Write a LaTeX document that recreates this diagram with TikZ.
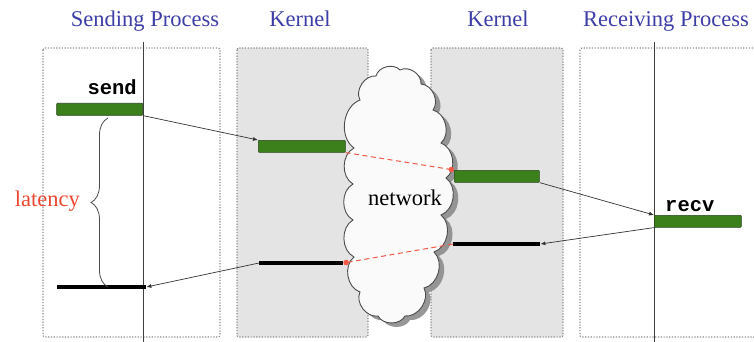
\documentclass[tikz,border=0pt]{standalone}
\usepackage{fontspec}
\setmainfont{Liberation Serif}
\setmonofont{Liberation Mono}
\usetikzlibrary{shadows,arrows.meta,decorations.pathreplacing}
\definecolor{titleblue}{RGB}{62,62,168}
\definecolor{latred}{RGB}{236,72,48}
\definecolor{dashred}{RGB}{240,90,70}
\definecolor{bargreen}{RGB}{60,128,28}
\definecolor{bardark}{RGB}{40,70,25}
\definecolor{kgray}{RGB}{228,228,228}
\definecolor{dotgray}{RGB}{140,140,140}
\begin{document}
\begin{tikzpicture}[x=1pt,y=-1pt,
  region/.style={draw=dotgray, line width=1.2pt, dash pattern=on 1.2pt off 1.6pt, rounded corners=2pt},
  kernelbox/.style={region, fill=kgray},
  bigtext/.style={font=\fontsize{22.5}{27}\selectfont, inner sep=0},
  title/.style={bigtext, text=titleblue, anchor=base},
  timeline/.style={draw=black!75, line width=1pt},
  greenbar/.style={draw=bardark, fill=bargreen, line width=0.6pt, minimum width=86, minimum height=12, inner sep=0, rounded corners=0.8pt},
  blackbar/.style={fill=black, minimum height=3.2, inner sep=0},
  msg/.style={draw=black!80, line width=0.7pt, -{Latex[length=5pt,width=4pt]}},
  netmsg/.style={draw=dashred, line width=1pt, dash pattern=on 5pt off 3.5pt, -{Circle[length=5.5pt]}},
  calllabel/.style={font=\fontsize{20.5}{24}\selectfont\ttfamily\bfseries, inner sep=0},
  puff/.style={bend left=62},
  cloudstyle/.style={draw=black!70, line width=0.9pt, fill=black!2,
      drop shadow={shadow xshift=5pt, shadow yshift=-4pt, fill=black!45, opacity=0.9}}]
\useasboundingbox (0,0) rectangle (754,342);
\clip (0,0) rectangle (754,342);
\fill[white] (0,0) rectangle (754,342);

% titles
\node[title] (t1) at (145,27) {Sending Process};
\node[title] (t2) at (300,27) {Kernel};
\node[title] (t3) at (498,27) {Kernel};
\node[title] (t4) at (666,27) {Receiving Process};

% regions
\draw[region] (43,48) rectangle (220,337);
\draw[kernelbox] (237,48) rectangle (368,337);
\draw[kernelbox] (431,48) rectangle (563,337);
\draw[region] (580,48) rectangle (790,337);

% timelines
\draw[timeline] (143,42) -- (143,350);
\draw[timeline] (654,42) -- (654,350);

% network cloud
\path[cloudstyle] (360,100) to[puff] (376,76) to[puff] (400,70) to[puff] (421,84)
  to[puff] (433,110) to[puff] (441,143) to[puff] (446,178) to[puff] (441,215)
  to[puff] (434,252) to[puff] (424,288) to[puff] (405,316) to[puff] (378,316)
  to[puff] (360,292) to[puff] (354,257) to[puff] (353,220) to[puff] (353,184)
  to[puff] (354,148) to[puff] cycle;
\node[bigtext, anchor=base] (netlabel) at (405,205) {network};

% bars
\node[greenbar, anchor=north east] (sendbar) at (143,103) {};
\node[greenbar, anchor=north west, minimum width=87] (k1send) at (258,140) {};
\node[greenbar, anchor=north west, minimum width=85] (k2send) at (454,170) {};
\node[greenbar, anchor=north west, minimum width=87] (recvbar) at (654,215) {};
\node[blackbar, anchor=west, minimum width=87] (k2recv) at (453,244) {};
\node[blackbar, anchor=west, minimum width=84] (k1recv) at (259,263) {};
\node[blackbar, anchor=west, minimum width=89] (sendrecv) at (57,287) {};

% call labels
\node[calllabel, anchor=base east] (sendlbl) at (137,95) {send};
\node[calllabel, anchor=base west] (recvlbl) at (665,211) {recv};

% messages
\draw[msg] (sendbar.south east) -- (k1send.north west);
\draw[netmsg] (k1send.south east) -- (k2send.north west);
\draw[msg] (k2send.south east) -- (recvbar.north west);
\draw[msg] (recvbar.south west) -- (k2recv.east);
\draw[netmsg] (k2recv.west) -- (k1recv.east);
\draw[msg] (k1recv.west) -- (sendrecv.east);

% latency brace
\coordinate (bb) at (108,287);
\coordinate (bt) at (108,118);
\draw[decorate, decoration={brace, amplitude=17pt}, draw=black!70, line width=0.8pt] (bb) -- (bt);
\node[bigtext, text=latred, anchor=base east] (lat) at (80,206) {latency};
\end{tikzpicture}
\end{document}
